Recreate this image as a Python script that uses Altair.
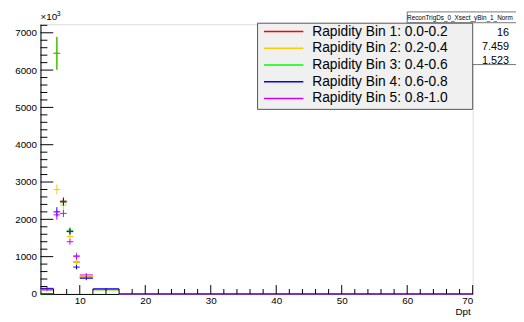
import altair as alt
import pandas as pd

FONT = "Liberation Sans"

series = ["Rapidity Bin 1: 0.0-0.2", "Rapidity Bin 2: 0.2-0.4", "Rapidity Bin 3: 0.4-0.6",
          "Rapidity Bin 4: 0.6-0.8", "Rapidity Bin 5: 0.8-1.0"]
colors = ["#ff0000", "#ffcc00", "#00ff00", "#0000ff", "#cc00ff"]

bin_lo = [4, 6, 7, 8, 9, 10, 12, 16]
bin_hi = [6, 7, 8, 9, 10, 12, 16, 70]

val_bin1 = [130, 6450, 2490, 1680, 855, 460, 120, 0]
val_bin2 = [100, 2800, 2380, 1540, 855, 475, 110, 0]
val_bin3 = [0, 6450, 2460, 1710, 1030, 440, 110, 0]
val_bin4 = [150, 2200, 2470, 1670, 720, 420, 140, 0]
val_bin5 = [110, 2120, 2160, 1400, 1000, 510, 125, 0]

err_bin1 = [30, 440, 100, 80, 80, 50, 20, 0]
err_bin2 = [30, 130, 100, 80, 80, 50, 20, 0]
err_bin3 = [0, 430, 100, 80, 80, 50, 20, 0]
err_bin4 = [30, 125, 100, 80, 60, 50, 20, 0]
err_bin5 = [30, 130, 100, 80, 80, 50, 20, 0]

stats_title = "ReconTrigDs_0_Xsect_yBin_1_Norm"
stats_values = ["16", "7.459", "1.523"]

y_major = [0, 1000, 2000, 3000, 4000, 5000, 6000, 7000]
y_minor = [v for v in range(200, 7201, 200) if v % 1000 != 0]
x_major = [10, 20, 30, 40, 50, 60, 70]
x_minor = [v for v in range(6, 70, 2) if v % 10 != 0]

W, H = 439, 274

vals = [val_bin1, val_bin2, val_bin3, val_bin4, val_bin5]
errs = [err_bin1, err_bin2, err_bin3, err_bin4, err_bin5]
rows = []
k = 0
for s, vv, ee in zip(series, vals, errs):
    for lo, hi, v, e in zip(bin_lo, bin_hi, vv, ee):
        rows.append({"series": s, "lo": lo, "hi": hi, "mid": (lo + hi) / 2,
                     "val": v, "elo": v - e, "ehi": v + e, "idx": k})
        k += 1
df = pd.DataFrame(rows)

xscale = alt.Scale(domain=[4, 70], nice=False, zero=False)
yscale = alt.Scale(domain=[0, 7230], nice=False, zero=True)
cscale = alt.Scale(domain=series, range=colors)

xaxis = alt.Axis(values=x_major, title=None, ticks=False, tickSize=0, grid=False,
                 labelPadding=2, format="d")
yaxis = alt.Axis(values=y_major, title=None, ticks=False, tickSize=0, grid=False,
                 labelPadding=4, format="d")

legend = alt.Legend(orient="none", legendX=226, legendY=-1, title=None,
                    symbolType="stroke", symbolSize=1600, symbolStrokeWidth=1.5,
                    clipHeight=17, labelFontSize=14, labelFont=FONT, labelColor="black",
                    labelOffset=8, padding=0, rowPadding=0, labelLimit=300)

base = alt.Chart(df)
hbar = base.mark_rule(strokeWidth=1).encode(
    x=alt.X("lo:Q", scale=xscale, axis=xaxis),
    x2="hi:Q",
    y=alt.Y("val:Q", scale=yscale, axis=yaxis),
    color=alt.Color("series:N", scale=cscale, legend=legend),
    order="idx:Q",
)
vbar = base.mark_rule(strokeWidth=1).encode(
    x=alt.X("mid:Q", scale=xscale, axis=xaxis),
    y=alt.Y("elo:Q", scale=yscale, axis=yaxis),
    y2="ehi:Q",
    color=alt.Color("series:N", scale=cscale, legend=legend),
    order="idx:Q",
)

ymaj = alt.Chart(pd.DataFrame({"v": y_major})).mark_rule(color="black", strokeWidth=1).encode(
    y=alt.Y("v:Q", scale=yscale, axis=yaxis), x=alt.value(0), x2=alt.value(13))
ymin = alt.Chart(pd.DataFrame({"v": y_minor})).mark_rule(color="black", strokeWidth=1).encode(
    y=alt.Y("v:Q", scale=yscale, axis=yaxis), x=alt.value(0), x2=alt.value(7))
xmaj = alt.Chart(pd.DataFrame({"v": x_major})).mark_rule(color="black", strokeWidth=1).encode(
    x=alt.X("v:Q", scale=xscale, axis=xaxis), y=alt.value(H), y2=alt.value(H - 9))
xmin = alt.Chart(pd.DataFrame({"v": x_minor})).mark_rule(color="black", strokeWidth=1).encode(
    x=alt.X("v:Q", scale=xscale, axis=xaxis), y=alt.value(H), y2=alt.value(H - 5))

one = pd.DataFrame({"a": [0]})

stats_box = alt.Chart(one).mark_rect(fill="white", stroke="#777", strokeWidth=1).encode(
    x=alt.value(372.5), x2=alt.value(495), y=alt.value(-12.5), y2=alt.value(41))
stats_div = alt.Chart(one).mark_rule(color="#777", strokeWidth=1).encode(
    x=alt.value(372.5), x2=alt.value(495), y=alt.value(-1.5))
stats_t = alt.Chart(one).mark_text(text=stats_title, font=FONT, fontSize=6.5, color="black",
                                   align="center", baseline="middle").encode(
    x=alt.value(426), y=alt.value(-6.5))
stats_layers = [stats_box, stats_div, stats_t]
for i, sv in enumerate(stats_values):
    stats_layers.append(alt.Chart(one).mark_text(text=sv, font=FONT, fontSize=11, color="black",
                                                 align="right", baseline="middle").encode(
        x=alt.value(476), y=alt.value(9 + i * 14.2)))

legend_box = alt.Chart(one).mark_rect(fill="#f0f0f0", stroke="#555", strokeWidth=1).encode(
    x=alt.value(220.5), x2=alt.value(439), y=alt.value(-1), y2=alt.value(86.5))

exp_main = alt.Chart(one).mark_text(text="×10", font=FONT, fontSize=10, color="black",
                                    align="left", baseline="middle").encode(
    x=alt.value(0), y=alt.value(-7))
exp_sup = alt.Chart(one).mark_text(text="3", font=FONT, fontSize=7, color="black",
                                   align="left", baseline="middle").encode(
    x=alt.value(16.5), y=alt.value(-10.5))
xtitle = alt.Chart(one).mark_text(text="Dpt", font=FONT, fontSize=10, color="black",
                                  align="right", baseline="middle").encode(
    x=alt.value(437), y=alt.value(292))

chart = alt.layer(
    hbar, vbar, ymaj, ymin, xmaj, xmin, *stats_layers, legend_box,
    exp_main, exp_sup, xtitle
).properties(
    width=W, height=H,
    autosize=alt.AutoSizeParams(type="none"),
    padding={"left": 33, "top": 14, "right": 44, "bottom": 24},
).configure_view(stroke="black", strokeWidth=1).configure(
    font=FONT, background="white"
).configure_axis(
    labelFontSize=10, labelFont=FONT, labelColor="black", domainColor="black",
    domainWidth=1, grid=False
)

chart.save("out.html", embed_options={"renderer": "svg", "actions": False})
